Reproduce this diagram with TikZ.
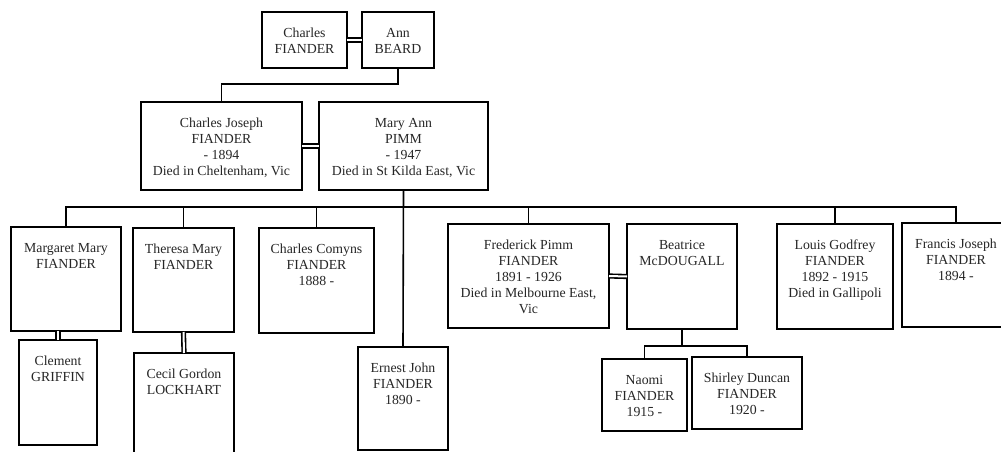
\documentclass[tikz,border=0pt]{standalone}
\usepackage{fontspec}
\setmainfont{Liberation Serif}
\begin{document}
\begin{tikzpicture}[x=1pt,y=-1pt,
  pbox/.style={draw=black, line width=1.6pt, rectangle, inner sep=0pt, outer sep=0pt},
  ptext/.style={anchor=north, align=center, inner sep=0pt, text=black!85, font=\fontsize{13.8}{16}\selectfont},
  conn/.style={draw=black, line width=1.6pt},
  marr/.style={draw=black, line width=1.6pt, double=white, double distance=2pt}]
\useasboundingbox[fill=white] (0,0) rectangle (1001,452);
\newcommand\pperson[6]{%
  \node[pbox, minimum width={#4-#2}, minimum height={#5-#3}] (#1) at ({(#2+#4)/2},{(#3+#5)/2}) {};
  \node[ptext] (#1-t) at ([yshift=-16pt]#1.north) {#6};}
% generation 1
\pperson{charles}{262}{12}{347}{68}{Charles\\FIANDER}
\pperson{ann}{362}{12}{434}{68}{Ann\\BEARD}
% generation 2
\pperson{cj}{141}{102}{302}{190}{Charles Joseph\\FIANDER\\- 1894\\Died in Cheltenham, Vic}
\pperson{map}{319}{102}{488}{190}{Mary Ann\\PIMM\\- 1947\\Died in St Kilda East, Vic}
% children
\pperson{margaret}{11}{227}{121}{331}{Margaret Mary\\FIANDER}
\pperson{theresa}{133}{228}{234}{332}{Theresa Mary\\FIANDER}
\pperson{comyns}{259}{228}{374}{333}{Charles Comyns\\FIANDER\\1888 -}
\pperson{ernest}{358}{347}{448}{450}{Ernest John\\FIANDER\\1890 -}
\pperson{fred}{448}{224}{609}{328}{Frederick Pimm\\FIANDER\\1891 - 1926\\Died in Melbourne East,\\Vic}
\pperson{beatrice}{627}{224}{737}{329}{Beatrice\\McDOUGALL}
\pperson{louis}{777}{224}{893}{329}{Louis Godfrey\\FIANDER\\1892 - 1915\\Died in Gallipoli}
\pperson{francis}{902}{223}{1010}{327}{Francis Joseph\\FIANDER\\1894 -}
% spouses and grandchildren
\pperson{clement}{19}{340}{97}{445}{Clement\\GRIFFIN}
\pperson{cecil}{134}{353}{234}{470}{Cecil Gordon\\LOCKHART}
\pperson{naomi}{602}{359}{687}{431}{Naomi\\FIANDER\\1915 -}
\pperson{shirley}{692}{357}{802}{429}{Shirley Duncan\\FIANDER\\1920 -}
% marriages
\draw[marr] (charles.east) -- (ann.west);
\draw[marr] (cj.east) -- (map.west);
\draw[marr] (fred.east) -- (beatrice.west);
\draw[marr] (margaret.south -| clement.north) -- (clement.north);
\draw[marr] (theresa.south) -- (cecil.north);
% descent
\draw[conn] (ann.south) -- ++(0,16) -| (cj.north);
\coordinate (bar) at (0,207);
\draw[conn] (map.south) -- (ernest.north);
\draw[conn] (margaret.north) |- (bar -| francis.north) -- (francis.north);
\draw[conn] (theresa.north) -- (theresa.north |- bar);
\draw[conn] (comyns.north) -- (comyns.north |- bar);
\draw[conn] (fred.north) -- (fred.north |- bar);
\draw[conn] (louis.north) -- (louis.north |- bar);
\coordinate (bar2) at (0,346);
\draw[conn] (beatrice.south) -- (beatrice.south |- bar2);
\draw[conn] (naomi.north) |- (bar2 -| shirley.north) -- (shirley.north);
\end{tikzpicture}
\end{document}
